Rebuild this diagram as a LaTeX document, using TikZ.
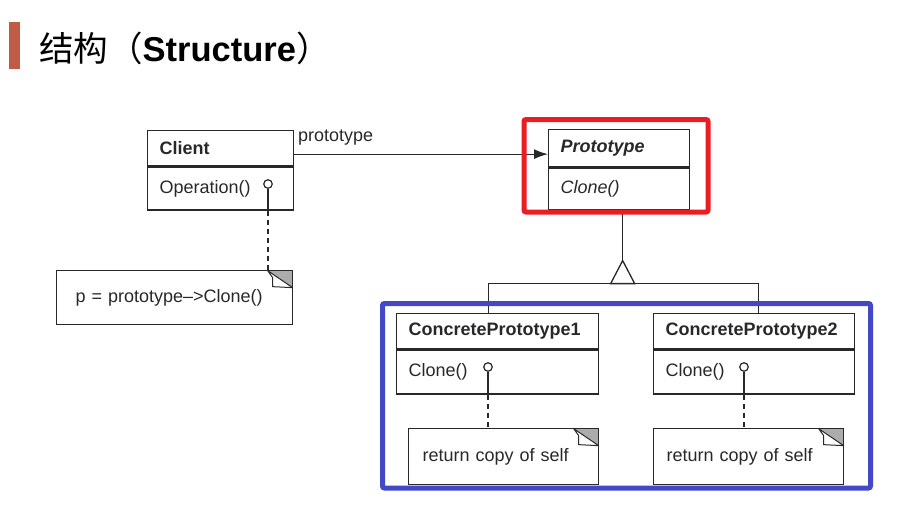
\documentclass[tikz,border=0pt]{standalone}
\usepackage{fontspec}
\setmainfont{Liberation Sans}
\newfontfamily\cjk{Noto Sans CJK SC}
\usetikzlibrary{arrows.meta}
\definecolor{titlebar}{RGB}{192,92,70}
\definecolor{hired}{RGB}{234,28,36}
\definecolor{hiblue}{RGB}{66,72,198}
\definecolor{umlline}{RGB}{40,40,40}
\tikzset{
	cls/.style={draw=umlline,line width=1.3pt,anchor=north west,inner xsep=12pt,inner ysep=0pt,align=left,text=umlline},
	knob/.style={draw=umlline,line width=1.2pt,circle,inner sep=0pt,minimum size=8.5pt},
	memo/.style={cls,path picture={
			\coordinate (ne) at (path picture bounding box.north east);
			\fill[gray!65] ([shift={(-25,0)}]ne) -- (ne) -- ([shift={(0,17)}]ne) -- cycle;
			\draw[umlline,line width=1pt,fill=white] ([shift={(-25,0)}]ne) -- ([shift={(-20,7)}]ne) -- ([shift={(-20,16)}]ne) -- ([shift={(0,17)}]ne) -- cycle;
		}},
	link/.style={umlline,line width=1.3pt},
	notelink/.style={link,dash pattern=on 5pt off 4pt},
	hilite/.style={line width=5pt,rounded corners=2pt},
}

\begin{document}
\begin{tikzpicture}[line cap=butt,line join=miter,x=1pt,y=-1pt,font=\fontsize{18}{22}\selectfont]
		\useasboundingbox (0,0) rectangle (920,511);
		% title
		\fill[titlebar] (9,22) rectangle (20,69);
		\node[anchor=west,inner sep=0pt,font=\fontsize{34.5}{41}\selectfont] (title) at (39,48) {{\cjk 结构（}\textbf{Structure}{\cjk ）}};
		% classes
		\node[cls,minimum height=35pt,text width=122pt] (client) at (147,130) {\textbf{Client}};
		\node[cls,minimum height=43pt,text width=122pt] (clientops) at (client.south west) {Operation()};
		\node[cls,minimum height=37pt,text width=117pt] (proto) at (548,129) {\textbf{\textit{Prototype}}};
		\node[cls,minimum height=42pt,text width=117pt] (protoops) at (proto.south west) {\textit{Clone()}};
		\node[cls,minimum height=35pt,text width=178pt] (cp1) at (396,313) {\textbf{ConcretePrototype1}};
		\node[cls,minimum height=44pt,text width=178pt] (cp1ops) at (cp1.south west) {Clone()};
		\node[cls,minimum height=35pt,text width=177pt] (cp2) at (653,313) {\textbf{ConcretePrototype2}};
		\node[cls,minimum height=44pt,text width=177pt] (cp2ops) at (cp2.south west) {Clone()};
		% notes
		\node[memo,inner xsep=19pt,minimum height=54pt,text width=198pt] (cnote) at (56,270) {p = prototype\textendash>Clone()};
		\node[memo,inner xsep=14pt,minimum height=56pt,text width=162pt] (cp1note) at (408,428) {return copy of self};
		\node[memo,inner xsep=13pt,minimum height=56pt,text width=164pt] (cp2note) at (653,428) {return copy of self};
		% knobs and note links
		\node[knob] (cknob) at (268,184) {};
		\node[knob] (cp1knob) at (488,367) {};
		\node[knob] (cp2knob) at (744,367) {};
		\draw[link] (cknob.south) -- (cknob.south |- clientops.south);
		\draw[link] (cp1knob.south) -- (cp1knob.south |- cp1ops.south);
		\draw[link] (cp2knob.south) -- (cp2knob.south |- cp2ops.south);
		\draw[notelink] (cknob.south |- clientops.south) -- (cknob.south |- cnote.north);
		\draw[notelink] (cp1knob.south |- cp1ops.south) -- (cp1knob.south |- cp1note.north);
		\draw[notelink] (cp2knob.south |- cp2ops.south) -- (cp2knob.south |- cp2note.north);
		% association
		\draw[link,-{Latex[length=14pt,width=10pt]}] ([yshift=-6pt]client.east) -- ([yshift=-6pt]proto.west);
		\node[anchor=west,inner sep=0pt,text=umlline] (protolabel) at (298,138) {prototype};
		% inheritance
		\draw[link] ([xshift=3.5pt]protoops.south) -- ++(0,50) coordinate (apex);
		\draw[link] (apex) -- ++(-12,23) -- ++(12,0) coordinate (base) -- ++(12,0) -- cycle;
		\draw[link] ([xshift=-9pt]cp1.north) |- (base) -| ([xshift=4.5pt]cp2.north);
		% highlight frames
		\draw[hired,hilite] (524,119.5) rectangle (708,212);
		\draw[hiblue,hilite] (382.5,303.5) rectangle (870.5,488);
	\end{tikzpicture}
\end{document}
